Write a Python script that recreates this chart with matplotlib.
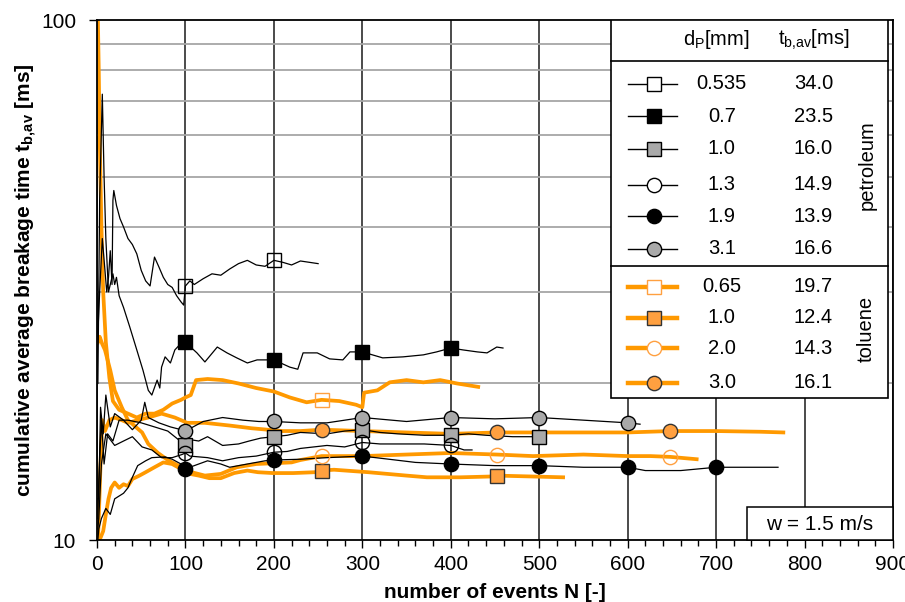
import matplotlib
matplotlib.use("Agg")
import matplotlib.pyplot as plt
from matplotlib.lines import Line2D
from matplotlib.patches import Rectangle
from matplotlib.ticker import MultipleLocator, FuncFormatter, NullFormatter, FixedLocator

# ---- data (N, cumulative average breakage time [ms]) ----
# petroleum
p0535_n = [1, 3, 6, 9, 11, 13, 15, 17, 18, 19, 22, 26, 30, 35, 40, 45, 50, 55, 60, 65, 70, 75, 80,
           85, 90, 95, 98, 100, 105, 110, 120, 130, 140, 150, 160, 170, 180, 190, 200, 210, 220, 230, 240, 250]
p0535_t = [25, 30, 38, 33, 30, 32, 36, 31, 45, 47, 44, 41.5, 40, 38, 37, 35.5, 33, 31.5, 30.8, 35, 33.5,
           32, 31, 30.6, 29.5, 28.7, 28.3, 30.8, 31.5, 31.0, 31.8, 32.5, 32.3, 33.2, 34.0, 34.5, 33.8, 33.6,
           34.5, 34.2, 33.8, 34.4, 34.2, 34.0]

p07_n = [1, 3, 6, 8, 10, 13, 16, 18, 20, 22, 25, 30, 37, 45, 52, 58, 62, 68, 71, 73, 77, 83, 88, 96, 100,
         113, 122, 136, 147, 158, 170, 181, 192, 200, 218, 227, 233, 249, 263, 278, 286, 300, 323, 346,
         369, 384, 400, 414, 430, 441, 452, 459]
p07_t = [20, 45, 72, 50, 38, 30, 31.5, 32.5, 31, 32, 29.5, 28, 25.7, 23.2, 21.2, 19.4, 19.0, 20.3, 19.6,
         21.5, 22.5, 21.9, 23.2, 24.0, 24.0, 22.9, 22.0, 23.5, 22.9, 22.4, 21.9, 22.2, 22.2, 22.2, 21.5,
         21.3, 22.9, 22.9, 22.3, 22.2, 23.0, 23.0, 22.4, 22.5, 22.7, 23.0, 23.4, 23.2, 23.0, 22.9, 23.5, 23.4]

p10_n = [1, 2, 5, 8, 12, 18, 25, 35, 50, 65, 80, 92, 100, 105, 115, 125, 142, 160, 172, 185, 200, 215,
         230, 260, 280, 300, 320, 340, 370, 400, 420, 440, 470, 500, 505]
p10_t = [11, 13, 17, 14, 16, 15.5, 17, 17.0, 16.8, 16.5, 16.2, 15.6, 15.2, 15.6, 15.5, 15.8, 15.2, 15.3,
         15.5, 15.7, 15.8, 15.9, 16.1, 16.0, 16.2, 16.3, 16.1, 16.0, 15.9, 15.9, 16.0, 15.9, 15.8, 15.8, 16.0]

p13_n = [1, 2, 5, 10, 20, 30, 40, 51, 62, 73, 85, 96, 100, 105, 125, 142, 160, 180, 200, 215, 230, 260,
         280, 300, 320, 340, 370, 400, 415, 424]
p13_t = [10.5, 11, 14, 16, 15.2, 15.5, 15.8, 15.1, 14.9, 14.4, 14.4, 14.6, 14.7, 14.5, 14.4, 14.2, 14.4,
         14.5, 14.75, 14.8, 15.0, 15.2, 15.1, 15.4, 15.3, 15.3, 15.3, 15.2, 14.9, 14.9]

p19_n = [1, 2, 5, 10, 15, 20, 30, 35, 40, 46, 55, 62, 77, 85, 95, 100, 110, 125, 140, 150, 170, 190, 200,
         230, 260, 300, 330, 360, 400, 450, 500, 550, 600, 620, 660, 700, 770]
p19_t = [10, 10.5, 11, 11.5, 11.2, 12.0, 12.3, 12.6, 13.2, 13.9, 14.2, 14.4, 14.45, 14.3, 14.0, 13.7, 13.9,
         14.2, 14.0, 13.8, 14.0, 14.2, 14.25, 14.3, 14.4, 14.5, 14.3, 14.1, 14.0, 13.9, 13.9, 13.8, 13.8,
         13.6, 13.6, 13.8, 13.8]

p31_n = [1, 2, 4, 7, 10, 15, 20, 30, 40, 50, 54, 58, 70, 83, 95, 100, 120, 142, 165, 183, 200, 230, 260,
         300, 350, 400, 450, 500, 550, 600, 614]
p31_t = [12, 12, 18, 16, 19, 16.5, 17.5, 17.0, 16.3, 17.0, 18.4, 17.2, 16.8, 16.5, 16.3, 16.2, 16.9, 17.2,
         17.0, 16.9, 16.9, 16.8, 16.8, 17.2, 16.9, 17.2, 17.1, 17.2, 17.0, 16.8, 16.7]

# toluene
t065_n = [1, 2, 3, 5, 7, 10, 14, 18, 25, 35, 45, 55, 65, 75, 85, 95, 100, 106, 112, 125, 142, 160, 180,
          200, 218, 237, 254, 274, 293, 300, 302, 317, 331, 350, 369, 388, 407, 431]
t065_t = [100, 80, 60, 40, 30, 24, 20.5, 18.5, 17.8, 17.5, 17.2, 17.5, 17.5, 17.8, 18.3, 18.6, 18.8, 19.0,
          20.3, 20.4, 20.3, 20.0, 19.6, 19.3, 18.8, 18.4, 18.6, 18.5, 18.2, 18.0, 19.2, 19.4, 20.1, 20.3,
          20.1, 20.3, 20.0, 19.7]

t10_n = [1, 4, 7, 10, 13, 16, 20, 25, 30, 35, 40, 48, 55, 65, 75, 85, 95, 105, 115, 127, 140, 155, 170,
         182, 199, 222, 246, 254, 268, 307, 350, 373, 411, 448, 452, 490, 527]
t10_t = [10.0, 10.1, 10.4, 11.2, 12.0, 12.6, 12.9, 12.6, 12.8, 12.7, 13.1, 13.3, 13.5, 13.8, 14.1, 14.0,
         13.7, 13.4, 13.3, 13.15, 13.15, 13.45, 13.6, 13.5, 13.45, 13.45, 13.5, 13.6, 13.65, 13.5, 13.3,
         13.2, 13.2, 13.25, 13.3, 13.25, 13.2]

t20_n = [1, 3, 6, 9, 15, 20, 28, 35, 51, 58, 69, 80, 92, 107, 122, 140, 158, 180, 220, 230, 254, 300,
         350, 400, 452, 493, 550, 600, 626, 648, 678]
t20_t = [24, 24.6, 23.8, 23.2, 21.2, 19.4, 18.0, 17.0, 16.1, 15.3, 14.7, 14.25, 13.9, 13.5, 13.3, 13.4,
         13.8, 14.0, 14.1, 14.25, 14.5, 14.5, 14.6, 14.7, 14.6, 14.5, 14.6, 14.5, 14.5, 14.45, 14.3]

t30_n = [1, 2, 4, 6, 9, 14, 20, 28, 35, 46, 58, 73, 88, 102, 122, 150, 175, 210, 230, 254, 300, 350, 400,
         452, 500, 550, 600, 648, 700, 750, 776]
t30_t = [10, 11, 14, 17, 16.2, 17.0, 17.2, 17.0, 16.8, 17.0, 17.2, 17.5, 17.2, 16.8, 16.8, 16.6, 16.4,
         16.2, 16.2, 16.3, 16.2, 16.1, 16.0, 16.1, 16.1, 16.1, 16.1, 16.2, 16.2, 16.15, 16.1]

# N at which the symbols sit on each curve
p0535_marks = [100, 200]
p07_marks = [100, 200, 300, 400]
p10_marks = [100, 200, 300, 400, 500]
p13_marks = [100, 200, 300, 400]
p19_marks = [100, 200, 300, 400, 500, 600, 700]
p31_marks = [100, 200, 300, 400, 500, 600]
tol_marks = [254, 452, 648]

# legend table: d_P [mm], t_b,av [ms]
petro_dp = ["0.535", "0.7", "1.0", "1.3", "1.9", "3.1"]
petro_tb = ["34.0", "23.5", "16.0", "14.9", "13.9", "16.6"]
tol_dp = ["0.65", "1.0", "2.0", "3.0"]
tol_tb = ["19.7", "12.4", "14.3", "16.1"]

# ---- styles ----
ORANGE = "#ff9900"
ORANGE_M = "#ffa040"
GREY_M = "#a9a9a9"
black_line = dict(color="black", lw=0.9)
orange_line = dict(color=ORANGE, lw=2.7)

petro = [
    (p0535_n, p0535_t, p0535_marks, dict(marker="s", mfc="none", mec="black")),
    (p07_n, p07_t, p07_marks, dict(marker="s", mfc="black", mec="black")),
    (p10_n, p10_t, p10_marks, dict(marker="s", mfc=GREY_M, mec="black")),
    (p13_n, p13_t, p13_marks, dict(marker="o", mfc="none", mec="black")),
    (p19_n, p19_t, p19_marks, dict(marker="o", mfc="black", mec="black")),
    (p31_n, p31_t, p31_marks, dict(marker="o", mfc=GREY_M, mec="black")),
]
tol = [
    (t065_n, t065_t, tol_marks[:1], dict(marker="s", mfc="none", mec=ORANGE_M)),
    (t10_n, t10_t, tol_marks[:2], dict(marker="s", mfc=ORANGE_M, mec="#333333")),
    (t20_n, t20_t, tol_marks, dict(marker="o", mfc="none", mec=ORANGE_M)),
    (t30_n, t30_t, tol_marks, dict(marker="o", mfc=ORANGE_M, mec="#333333")),
]

plt.rcParams["font.family"] = ["Liberation Sans", "DejaVu Sans"]
plt.rcParams["font.size"] = 15
plt.rcParams["mathtext.fontset"] = "custom"
plt.rcParams["mathtext.rm"] = "Liberation Sans"
plt.rcParams["mathtext.it"] = "Liberation Sans:italic"
plt.rcParams["mathtext.bf"] = "Liberation Sans:bold"

fig = plt.figure(figsize=(9.05, 6.02), dpi=100)
ax = fig.add_axes([97 / 905, 62 / 602, 796 / 905, 520 / 602])

MS = 10.3


def draw(group, line_style):
    for n, t, marks, mst in group:
        ax.plot(n, t, zorder=3, solid_joinstyle="round", **line_style)
        idx = [n.index(m) for m in marks]
        ax.plot([n[i] for i in idx], [t[i] for i in idx], ls="none", ms=MS, mew=1.0, zorder=5, **mst)


draw(tol, orange_line)
draw(petro, black_line)

# ---- axes ----
ax.set_yscale("log")
ax.set_xlim(0, 900)
ax.set_ylim(10, 100)
ax.xaxis.set_major_locator(MultipleLocator(100))
ax.xaxis.set_minor_locator(MultipleLocator(20))
ax.yaxis.set_major_locator(FixedLocator([10, 100]))
ax.yaxis.set_major_formatter(FuncFormatter(lambda v, p: f"{v:g}"))
ax.yaxis.set_minor_locator(FixedLocator([20, 30, 40, 50, 60, 70, 80, 90]))
ax.yaxis.set_minor_formatter(NullFormatter())
ax.tick_params(axis="x", which="major", direction="out", length=6, width=1, pad=5, labelsize=15)
ax.tick_params(axis="x", which="minor", direction="out", length=4, width=1)
ax.tick_params(axis="y", which="major", direction="out", length=6, width=1, pad=9, labelsize=15)
ax.tick_params(axis="y", which="minor", length=0)

ax.set_axisbelow(True)
ax.grid(which="minor", axis="y", color="#a6a6a6", lw=1.3)
ax.grid(which="major", axis="x", color="#1a1a1a", lw=1.1)
for s in ax.spines.values():
    s.set_linewidth(1.3)
    s.set_color("black")
    s.set_zorder(8)

ax.set_xlabel("number of events N [-]", fontweight="bold", fontsize=15, labelpad=6)
ax.set_ylabel(r"cumulative average breakage time t$_\mathbf{b{,}av}$ [ms]", fontweight="bold",
              fontsize=15, labelpad=1.5)

# ---- table-style legend ----
tr = ax.transAxes
ax.add_patch(Rectangle((0.646, 0.273), 0.348, 0.727, transform=tr, facecolor="white",
                       edgecolor="black", lw=1.2, zorder=10))
ax.add_line(Line2D([0.646, 0.994], [0.921, 0.921], transform=tr, color="black", lw=1.2, zorder=11))
ax.add_line(Line2D([0.646, 0.994], [0.527, 0.527], transform=tr, color="black", lw=1.2, zorder=11))
ax.text(0.778, 0.962, r"d$_\mathrm{P}$[mm]", transform=tr, ha="center", va="center", fontsize=14.5, zorder=12)
ax.text(0.900, 0.962, r"t$_\mathrm{b{,}av}$[ms]", transform=tr, ha="center", va="center", fontsize=14.5, zorder=12)

petro_rows = [0.877, 0.815, 0.752, 0.683, 0.623, 0.560]
tol_rows = [0.487, 0.427, 0.369, 0.302]


def legend_rows(group, rows, dps, tbs, line_style):
    for (n, t, marks, mst), yy, dp, tb in zip(group, rows, dps, tbs):
        ax.add_line(Line2D([0.667, 0.729], [yy, yy], transform=tr, zorder=12, **line_style))
        m = dict(mst)
        if m["mfc"] == "none":
            m["mfc"] = "white"
        ax.add_line(Line2D([0.700], [yy], transform=tr, ls="none", ms=MS, mew=1.0, zorder=13, **m))
        ax.text(0.785, yy, dp, transform=tr, ha="center", va="center", fontsize=14.5, zorder=12)
        ax.text(0.900, yy, tb, transform=tr, ha="center", va="center", fontsize=14.5, zorder=12)


legend_rows(petro, petro_rows, petro_dp, petro_tb, dict(color="black", lw=1.0))
legend_rows(tol, tol_rows, tol_dp, tol_tb, dict(color=ORANGE, lw=3.2))
ax.text(0.967, 0.720, "petroleum", transform=tr, rotation=90, ha="center", va="center", fontsize=14.5, zorder=12)
ax.text(0.967, 0.405, "toluene", transform=tr, rotation=90, ha="center", va="center", fontsize=14.5, zorder=12)

# ---- velocity box ----
ax.add_patch(Rectangle((0.817, 0.0), 0.183, 0.0635, transform=tr, facecolor="white",
                       edgecolor="black", lw=1.1, zorder=10, clip_on=False))
ax.text(0.908, 0.0305, "w = 1.5 m/s", transform=tr, ha="center", va="center", fontsize=15, zorder=12)

fig.savefig("out.png", dpi=100)
